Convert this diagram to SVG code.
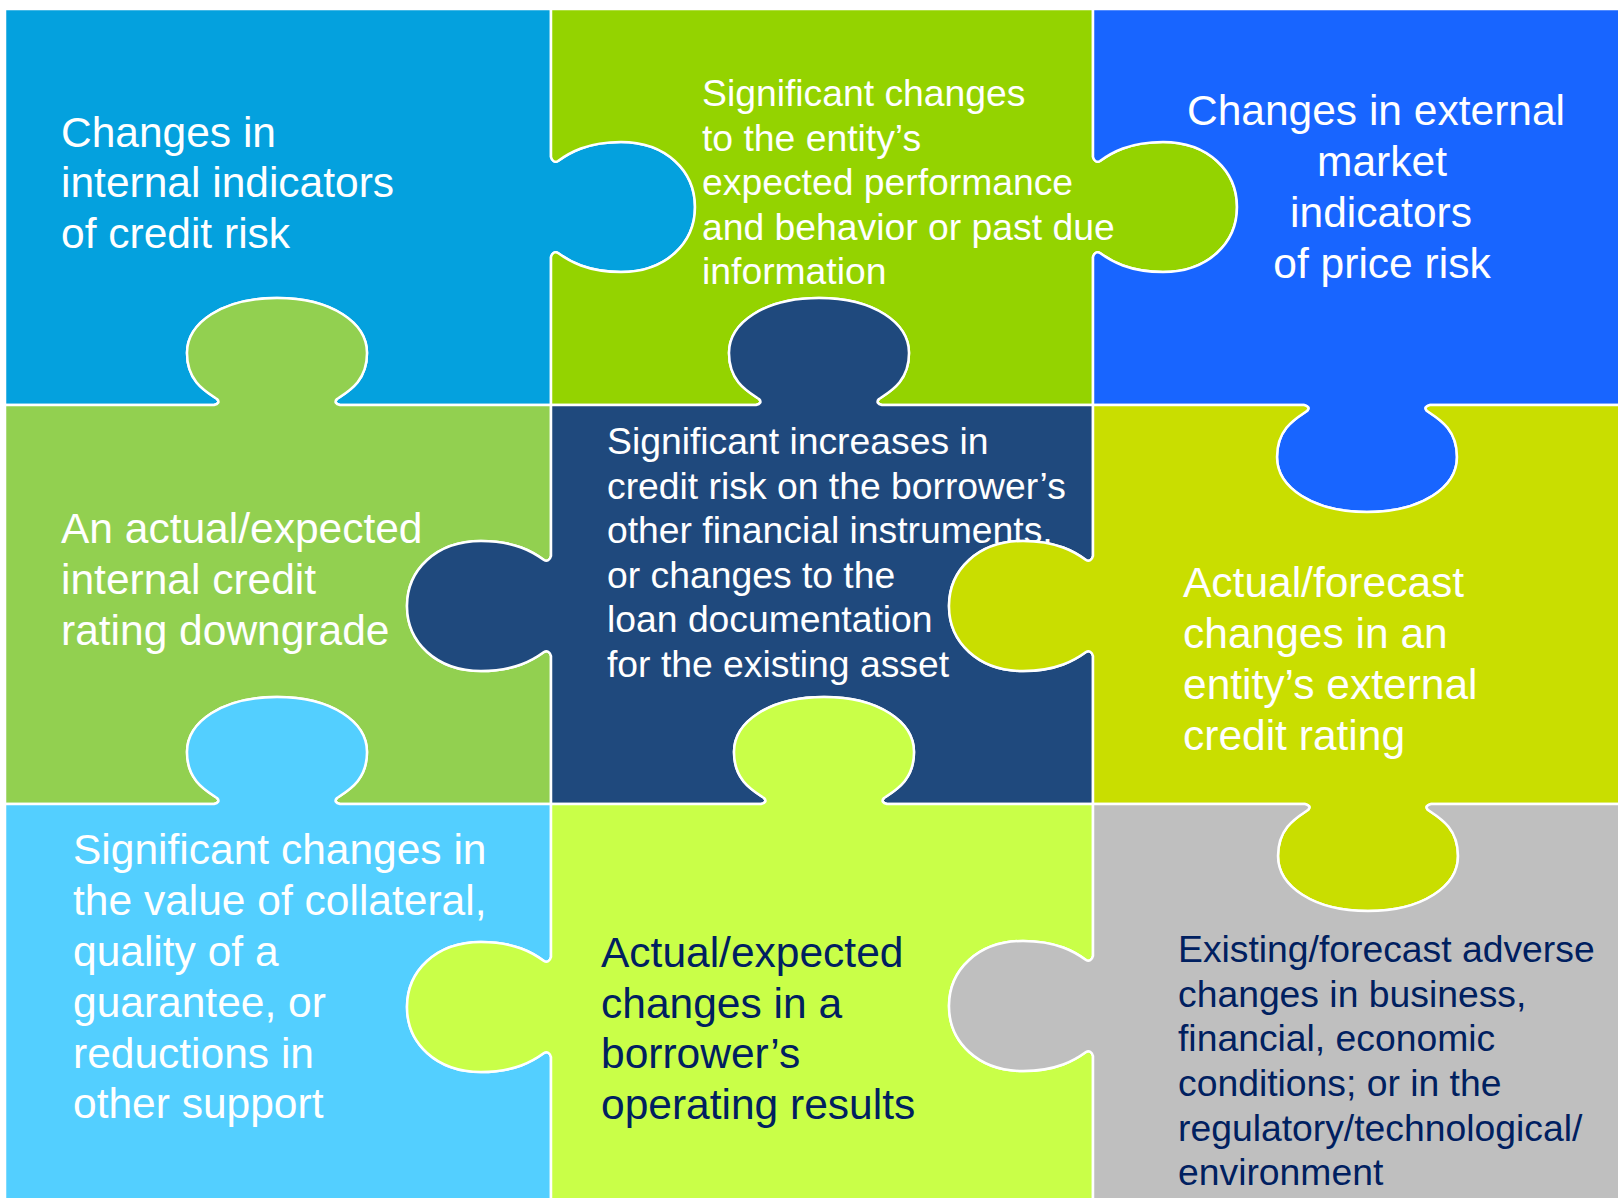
<svg xmlns="http://www.w3.org/2000/svg" width="1618" height="1198" viewBox="0 0 1618 1198">
<style>
.pc{stroke:#ffffff;stroke-width:2.5;stroke-linejoin:round}
.t{font-family:"Liberation Sans",Arial,Helvetica,sans-serif}
.w{fill:#ffffff}
.n{fill:#002060}
.big{font-size:42.5px}
.sm{font-size:37.3px}
</style>
<rect x="0" y="0" width="1618" height="1198" fill="#ffffff"/>
<g id="node-tl">
<path class="pc" fill="#04a1de" d="M5,9 H551 V157 C552,161 555,163 558,161 C569,153 587,142 621,142 C666,142 695,171 695,207 C695,243 666,272 621,272 C587,272 569,261 558,253 C555,251 552,253 551,257 V405 H340 C336,404 334,402 337,399 C349,391 367,381 367,353 C367,323 332,298 277,298 C222,298 187,323 187,353 C187,381 205,391 217,399 C220,402 218,404 214,405 H5 Z"/>
<text class="t w big"><tspan x="61" y="147">Changes in</tspan><tspan x="61" y="197">internal indicators</tspan><tspan x="61" y="248">of credit risk</tspan></text>
</g>
<g id="node-tm">
<path class="pc" fill="#94d300" d="M551,9 H1093 V157 C1094,161 1097,163 1100,161 C1111,153 1129,142 1163,142 C1208,142 1237,171 1237,207 C1237,243 1208,272 1163,272 C1129,272 1111,261 1100,253 C1097,251 1094,253 1093,257 V405 H882 C878,404 876,402 879,399 C891,391 909,381 909,353 C909,323 874,298 819,298 C764,298 729,323 729,353 C729,381 747,391 759,399 C762,402 760,404 756,405 H551 V257 C552,253 555,251 558,253 C569,261 587,272 621,272 C666,272 695,243 695,207 C695,171 666,142 621,142 C587,142 569,153 558,161 C555,163 552,161 551,157 Z"/>
<text class="t w sm"><tspan x="702" y="106">Significant changes</tspan><tspan x="702" y="150.5">to the entity’s</tspan><tspan x="702" y="195">expected performance</tspan><tspan x="702" y="239.5">and behavior or past due</tspan><tspan x="702" y="284">information</tspan></text>
</g>
<g id="node-tr">
<path class="pc" fill="#1865ff" d="M1093,9 H1622 V405 H1430 C1426,406 1424,408 1427,411 C1439,419 1457,429 1457,457 C1457,487 1422,512 1367,512 C1312,512 1277,487 1277,457 C1277,429 1295,419 1307,411 C1310,408 1308,406 1304,405 H1093 V257 C1094,253 1097,251 1100,253 C1111,261 1129,272 1163,272 C1208,272 1237,243 1237,207 C1237,171 1208,142 1163,142 C1129,142 1111,153 1100,161 C1097,163 1094,161 1093,157 Z"/>
<text class="t w big" text-anchor="middle"><tspan x="1376" y="125">Changes in external</tspan><tspan x="1382" y="176">market</tspan><tspan x="1381" y="227">indicators</tspan><tspan x="1382" y="278">of price risk</tspan></text>
</g>
<g id="node-ml">
<path class="pc" fill="#92d050" d="M5,405 H214 C218,404 220,402 217,399 C205,391 187,381 187,353 C187,323 222,298 277,298 C332,298 367,323 367,353 C367,381 349,391 337,399 C334,402 336,404 340,405 H551 V556 C550,560 547,562 544,560 C533,552 515,541 481,541 C436,541 407,570 407,606 C407,642 436,671 481,671 C515,671 533,660 544,652 C547,650 550,652 551,656 V804 H340 C336,803 334,801 337,798 C349,790 367,780 367,752 C367,722 332,697 277,697 C222,697 187,722 187,752 C187,780 205,790 217,798 C220,801 218,803 214,804 H5 Z"/>
<text class="t w big"><tspan x="61" y="543">An actual/expected</tspan><tspan x="61" y="594">internal credit</tspan><tspan x="61" y="645">rating downgrade</tspan></text>
</g>
<g id="node-center">
<path class="pc" fill="#1f497d" d="M551,405 H756 C760,404 762,402 759,399 C747,391 729,381 729,353 C729,323 764,298 819,298 C874,298 909,323 909,353 C909,381 891,391 879,399 C876,402 878,404 882,405 H1093 V556 C1092,560 1089,562 1086,560 C1075,552 1057,541 1023,541 C978,541 949,570 949,606 C949,642 978,671 1023,671 C1057,671 1075,660 1086,652 C1089,650 1092,652 1093,656 V804 H887 C883,803 881,801 884,798 C896,790 914,780 914,752 C914,722 879,697 824,697 C769,697 734,722 734,752 C734,780 752,790 764,798 C767,801 765,803 761,804 H551 V656 C550,652 547,650 544,652 C533,660 515,671 481,671 C436,671 407,642 407,606 C407,570 436,541 481,541 C515,541 533,552 544,560 C547,562 550,560 551,556 Z"/>
<text class="t w sm"><tspan x="607" y="454">Significant increases in</tspan><tspan x="607" y="498.5">credit risk on the borrower’s</tspan><tspan x="607" y="543">other financial instruments,</tspan><tspan x="607" y="587.5">or changes to the</tspan><tspan x="607" y="632">loan documentation</tspan><tspan x="607" y="676.5">for the existing asset</tspan></text>
</g>
<g id="node-mr">
<path class="pc" fill="#c9de00" d="M1093,405 H1304 C1308,406 1310,408 1307,411 C1295,419 1277,429 1277,457 C1277,487 1312,512 1367,512 C1422,512 1457,487 1457,457 C1457,429 1439,419 1427,411 C1424,408 1426,406 1430,405 H1622 V804 H1431 C1427,805 1425,807 1428,810 C1440,818 1458,828 1458,856 C1458,886 1423,911 1368,911 C1313,911 1278,886 1278,856 C1278,828 1296,818 1308,810 C1311,807 1309,805 1305,804 H1093 V656 C1092,652 1089,650 1086,652 C1075,660 1057,671 1023,671 C978,671 949,642 949,606 C949,570 978,541 1023,541 C1057,541 1075,552 1086,560 C1089,562 1092,560 1093,556 Z"/>
<text class="t w big"><tspan x="1183" y="597">Actual/forecast</tspan><tspan x="1183" y="648">changes in an</tspan><tspan x="1183" y="699">entity’s external</tspan><tspan x="1183" y="750">credit rating</tspan></text>
</g>
<g id="node-bl">
<path class="pc" fill="#53cfff" d="M5,804 H214 C218,803 220,801 217,798 C205,790 187,780 187,752 C187,722 222,697 277,697 C332,697 367,722 367,752 C367,780 349,790 337,798 C334,801 336,803 340,804 H551 V957 C550,961 547,963 544,961 C533,953 515,942 481,942 C436,942 407,971 407,1007 C407,1043 436,1072 481,1072 C515,1072 533,1061 544,1053 C547,1051 550,1053 551,1057 V1202 H5 Z"/>
<text class="t w big"><tspan x="73" y="864">Significant changes in</tspan><tspan x="73" y="915">the value of collateral,</tspan><tspan x="73" y="966">quality of a</tspan><tspan x="73" y="1017">guarantee, or</tspan><tspan x="73" y="1068">reductions in</tspan><tspan x="73" y="1118">other support</tspan></text>
</g>
<g id="node-bm">
<path class="pc" fill="#c9ff48" d="M551,804 H761 C765,803 767,801 764,798 C752,790 734,780 734,752 C734,722 769,697 824,697 C879,697 914,722 914,752 C914,780 896,790 884,798 C881,801 883,803 887,804 H1093 V956 C1092,960 1089,962 1086,960 C1075,952 1057,941 1023,941 C978,941 949,970 949,1006 C949,1042 978,1071 1023,1071 C1057,1071 1075,1060 1086,1052 C1089,1050 1092,1052 1093,1056 V1202 H551 V1057 C550,1053 547,1051 544,1053 C533,1061 515,1072 481,1072 C436,1072 407,1043 407,1007 C407,971 436,942 481,942 C515,942 533,953 544,961 C547,963 550,961 551,957 Z"/>
<text class="t n big"><tspan x="601" y="967">Actual/expected</tspan><tspan x="601" y="1018">changes in a</tspan><tspan x="601" y="1068">borrower’s</tspan><tspan x="601" y="1119">operating results</tspan></text>
</g>
<g id="node-br">
<path class="pc" fill="#bfbfbf" d="M1093,804 H1305 C1309,805 1311,807 1308,810 C1296,818 1278,828 1278,856 C1278,886 1313,911 1368,911 C1423,911 1458,886 1458,856 C1458,828 1440,818 1428,810 C1425,807 1427,805 1431,804 H1622 V1202 H1093 V1056 C1092,1052 1089,1050 1086,1052 C1075,1060 1057,1071 1023,1071 C978,1071 949,1042 949,1006 C949,970 978,941 1023,941 C1057,941 1075,952 1086,960 C1089,962 1092,960 1093,956 Z"/>
<text class="t n sm"><tspan x="1178" y="962">Existing/forecast adverse</tspan><tspan x="1178" y="1007">changes in business,</tspan><tspan x="1178" y="1051">financial, economic</tspan><tspan x="1178" y="1096">conditions; or in the</tspan><tspan x="1178" y="1141">regulatory/technological/</tspan><tspan x="1178" y="1185">environment</tspan></text>
</g>
<g id="connectors"/>
</svg>
